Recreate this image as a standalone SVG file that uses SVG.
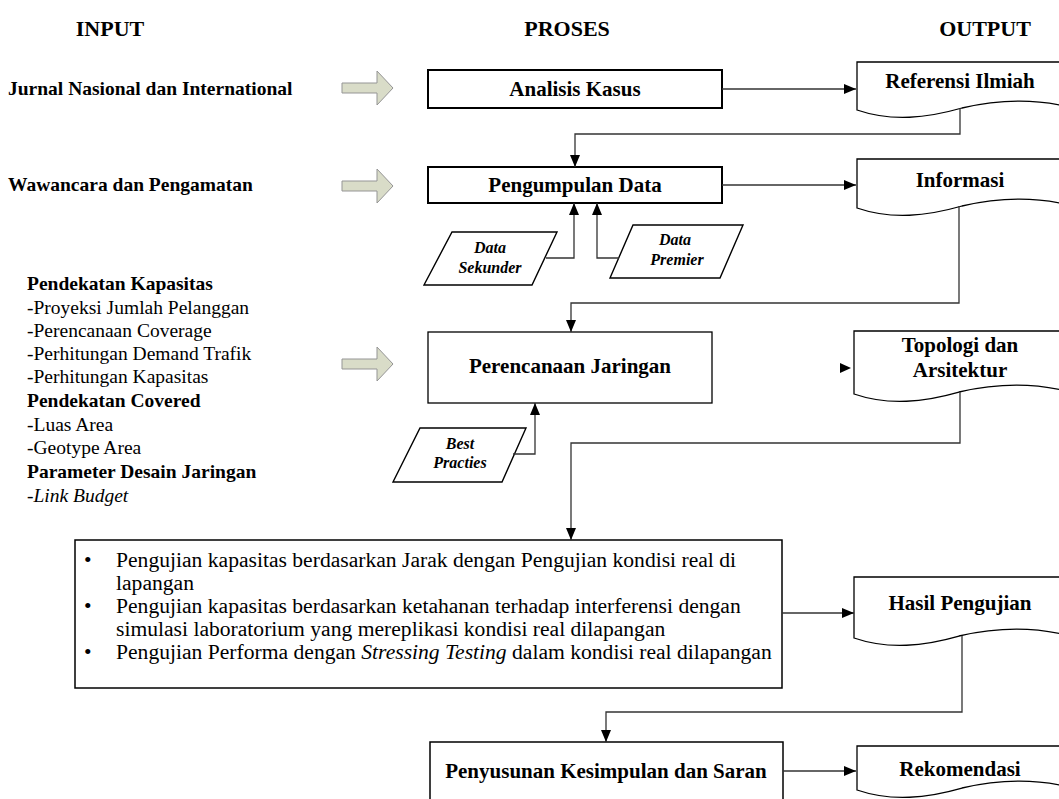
<svg xmlns="http://www.w3.org/2000/svg" width="1059" height="799" viewBox="0 0 1059 799">
  <style>
    text { font-family: "Liberation Serif", "Times New Roman", serif; fill: #000; }
    .hdr { font-size: 22px; font-weight: bold; text-anchor: middle; }
    .src { font-size: 19.5px; font-weight: bold; }
    .lst { font-size: 19.5px; }
    .b { font-weight: bold; }
    .lbl { font-size: 21px; font-weight: bold; text-anchor: middle; }
    .par { font-size: 16px; font-weight: bold; font-style: italic; text-anchor: middle; }
    .bul { font-size: 21.6px; }
    .box { fill: #fff; stroke: #000; }
    .thick { stroke-width: 2; }
    .thin { stroke-width: 1.3; }
    .doc { fill: #fff; stroke: #000; stroke-width: 1.3; }
    .io { fill: #fff; stroke: #000; stroke-width: 1.4; }
    .blk { fill: #d9dcc8; stroke: #959595; stroke-width: 1; }
    .con { fill: none; stroke: #333; stroke-width: 1.3; marker-end: url(#ah); }
  </style>
  <defs>
    <marker id="ah" markerUnits="userSpaceOnUse" markerWidth="12" markerHeight="10" refX="12" refY="5" orient="auto">
      <path d="M0,0 L12,5 L0,10 Z" fill="#000"/>
    </marker>
    <path id="blockArrow" d="M0,-5 H35 V-17 L51,0 L35,17 V5 H0 Z"/>
  </defs>

  <!-- column headings -->
  <g id="headings">
    <text class="hdr" x="110" y="36">INPUT</text>
    <text class="hdr" x="567" y="36">PROSES</text>
    <text class="hdr" x="985" y="36">OUTPUT</text>
  </g>

  <!-- input sources -->
  <g id="input-jurnal">
    <text class="src" x="8" y="95">Jurnal Nasional dan International</text>
  </g>
  <g id="input-wawancara">
    <text class="src" x="8" y="191">Wawancara dan Pengamatan</text>
  </g>
  <g id="input-pendekatan">
    <text class="lst" x="27" y="290"><tspan class="b">Pendekatan Kapasitas</tspan></text>
    <text class="lst" x="27" y="314">-Proyeksi Jumlah Pelanggan</text>
    <text class="lst" x="27" y="337">-Perencanaan Coverage</text>
    <text class="lst" x="27" y="360">-Perhitungan Demand Trafik</text>
    <text class="lst" x="27" y="383">-Perhitungan Kapasitas</text>
    <text class="lst" x="27" y="407"><tspan class="b">Pendekatan Covered</tspan></text>
    <text class="lst" x="27" y="431">-Luas Area</text>
    <text class="lst" x="27" y="454">-Geotype Area</text>
    <text class="lst" x="27" y="478"><tspan class="b">Parameter Desain Jaringan</tspan></text>
    <text class="lst" x="27" y="502">-<tspan font-style="italic">Link Budget</tspan></text>
  </g>

  <!-- input-to-process block arrows -->
  <g id="feed-arrows">
    <use href="#blockArrow" class="blk" transform="translate(342,88)"/>
    <use href="#blockArrow" class="blk" transform="translate(342,186)"/>
    <use href="#blockArrow" class="blk" transform="translate(342,364)"/>
  </g>

  <!-- process steps -->
  <g id="analisis-kasus">
    <rect class="box thick" x="428" y="70" width="294" height="38"/>
    <text class="lbl" x="575" y="96">Analisis Kasus</text>
  </g>
  <g id="pengumpulan-data">
    <rect class="box thick" x="428" y="167" width="294" height="36"/>
    <text class="lbl" x="575" y="192">Pengumpulan Data</text>
  </g>
  <g id="data-sekunder">
    <polygon class="io" points="452,232 557,232 532,285 424,285"/>
    <text class="par" x="490" y="253">Data</text>
    <text class="par" x="490" y="273">Sekunder</text>
  </g>
  <g id="data-premier">
    <polygon class="io" points="633,225 743,225 720,278 610,278"/>
    <text class="par" x="675" y="245">Data</text>
    <text class="par" x="677" y="265">Premier</text>
  </g>
  <g id="perencanaan-jaringan">
    <rect class="box thin" x="428" y="332" width="284" height="71"/>
    <text class="lbl" x="570" y="373">Perencanaan Jaringan</text>
  </g>
  <g id="best-practies">
    <polygon class="io" points="420,428 526,428 502,482 393,482"/>
    <text class="par" x="460" y="449">Best</text>
    <text class="par" x="460" y="468">Practies</text>
  </g>
  <g id="pengujian">
    <rect class="box" stroke-width="1.5" x="75" y="540" width="707" height="148"/>
    <text class="bul" x="84" y="567">•</text>
    <text class="bul" x="116" y="567">Pengujian kapasitas berdasarkan Jarak dengan Pengujian kondisi real di</text>
    <text class="bul" x="116" y="590">lapangan</text>
    <text class="bul" x="84" y="613">•</text>
    <text class="bul" x="116" y="613">Pengujian kapasitas berdasarkan ketahanan terhadap interferensi dengan</text>
    <text class="bul" x="116" y="636">simulasi laboratorium yang mereplikasi kondisi real dilapangan</text>
    <text class="bul" x="84" y="659">•</text>
    <text class="bul" x="116" y="659">Pengujian Performa dengan <tspan font-style="italic">Stressing Testing</tspan> dalam kondisi real dilapangan</text>
  </g>
  <g id="penyusunan">
    <rect class="box" stroke-width="1.5" x="430" y="742" width="353" height="70"/>
    <text class="lbl" x="606" y="778">Penyusunan Kesimpulan dan Saran</text>
  </g>

  <!-- outputs (document shapes) -->
  <g id="referensi-ilmiah">
    <path class="doc" d="M857,62 H1069 V107 C1032,98 997,100 962,108 C927,118 892,122 857,110 Z"/>
    <text class="lbl" x="960" y="88">Referensi Ilmiah</text>
  </g>
  <g id="informasi">
    <path class="doc" d="M857,159 H1069 V205 C1032,196 997,198 962,206 C927,216 892,220 857,208 Z"/>
    <text class="lbl" x="960" y="187">Informasi</text>
  </g>
  <g id="topologi">
    <path class="doc" d="M854,331 H1066 V391 C1029,382 994,384 959,392 C924,402 889,406 854,394 Z"/>
    <text class="lbl" x="960" y="352">Topologi dan</text>
    <text class="lbl" x="960" y="377">Arsitektur</text>
  </g>
  <g id="hasil-pengujian">
    <path class="doc" d="M854,577 H1066 V635 C1029,626 994,628 959,636 C924,646 889,650 854,638 Z"/>
    <text class="lbl" x="960" y="610">Hasil Pengujian</text>
  </g>
  <g id="rekomendasi">
    <path class="doc" d="M857,746 H1069 V787 C1032,778 997,780 962,788 C927,798 892,802 857,790 Z"/>
    <text class="lbl" x="960" y="776">Rekomendasi</text>
  </g>

  <!-- connectors -->
  <g id="connectors">
    <path class="con" d="M722,89 H856"/>
    <path class="con" d="M960,108 V134 H575 V167"/>
    <path class="con" d="M722,185 H856"/>
    <path class="con" d="M546,258 H574 V203"/>
    <path class="con" d="M619,258 H597 V203"/>
    <path class="con" d="M959,206 V303 H571 V332"/>
    <path class="con" d="M513,454 H535 V403"/>
    <polygon points="840,363 851,368 840,373" fill="#000"/>
    <path class="con" d="M960,392 V443 H571 V540"/>
    <path class="con" d="M782,613 H854"/>
    <path class="con" d="M962,636 V712 H606 V742"/>
    <path class="con" d="M783,771 H856"/>
  </g>
</svg>
